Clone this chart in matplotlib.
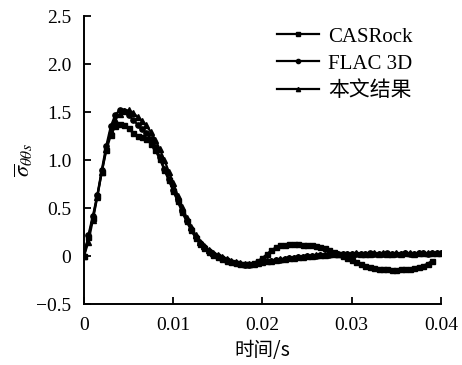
import numpy as np
import matplotlib
matplotlib.use('Agg')
import matplotlib.pyplot as plt

plt.rcParams['font.family'] = ['Liberation Serif', 'Noto Sans CJK SC']
plt.rcParams['mathtext.fontset'] = 'stix'

# time axis (s), step 0.0005
t = np.arange(81) * 0.0005

# CASRock (squares) -- ends at 0.039 s
cas = [0.00, 0.20, 0.40, 0.63, 0.88, 1.10, 1.26, 1.35, 1.38, 1.37,
       1.33, 1.28, 1.25, 1.24, 1.22, 1.17, 1.10, 1.01, 0.90, 0.79,
       0.68, 0.57, 0.46, 0.36, 0.27, 0.19, 0.13, 0.08, 0.04, 0.01,
       -0.01, -0.03, -0.05, -0.06, -0.07, -0.08, -0.08, -0.08, -0.07, -0.05,
       -0.02, 0.02, 0.06, 0.09, 0.11, 0.12, 0.13, 0.13, 0.13, 0.12,
       0.12, 0.11, 0.10, 0.09, 0.08, 0.06, 0.04, 0.02, 0.00, -0.02,
       -0.04, -0.06, -0.08, -0.10, -0.11, -0.12, -0.13, -0.14, -0.14, -0.15,
       -0.15, -0.14, -0.14, -0.13, -0.12, -0.11, -0.10, -0.08, -0.05]

# FLAC 3D (circles)
flac = [0.00, 0.22, 0.42, 0.64, 0.90, 1.15, 1.35, 1.47, 1.52, 1.51,
        1.47, 1.42, 1.37, 1.32, 1.28, 1.22, 1.14, 1.03, 0.91, 0.80,
        0.69, 0.58, 0.47, 0.37, 0.28, 0.20, 0.14, 0.09, 0.05, 0.02,
        0.00, -0.02, -0.04, -0.06, -0.07, -0.08, -0.09, -0.09, -0.08, -0.07,
        -0.06, -0.05, -0.05, -0.04, -0.04, -0.03, -0.02, -0.02, -0.01, -0.01,
        0.00, 0.00, 0.00, 0.01, 0.01, 0.01, 0.02, 0.02, 0.02, 0.02,
        0.02, 0.02, 0.02, 0.02, 0.03, 0.02, 0.02, 0.02, 0.03, 0.02,
        0.02, 0.02, 0.03, 0.02, 0.02, 0.03, 0.03, 0.02, 0.03, 0.03,
        0.03]

# this paper (triangles)
ours = [0.00, 0.15, 0.38, 0.62, 0.88, 1.12, 1.30, 1.42, 1.48, 1.51,
        1.52, 1.49, 1.45, 1.41, 1.36, 1.29, 1.21, 1.11, 1.00, 0.88,
        0.76, 0.63, 0.51, 0.40, 0.30, 0.22, 0.15, 0.10, 0.06, 0.03,
        0.01, -0.01, -0.03, -0.05, -0.06, -0.07, -0.08, -0.08, -0.08, -0.07,
        -0.06, -0.05, -0.05, -0.04, -0.03, -0.03, -0.02, -0.02, -0.01, -0.01,
        0.00, 0.00, 0.01, 0.01, 0.01, 0.02, 0.02, 0.02, 0.02, 0.02,
        0.02, 0.03, 0.02, 0.02, 0.02, 0.03, 0.02, 0.03, 0.02, 0.02,
        0.03, 0.02, 0.03, 0.03, 0.02, 0.03, 0.03, 0.03, 0.03, 0.03,
        0.03]

labels = ['CASRock', 'FLAC 3D', '本文结果']
xticks = [0, 0.01, 0.02, 0.03, 0.04]
xticklabels = ['0', '0.01', '0.02', '0.03', '0.04']
yticks = [-0.5, 0, 0.5, 1.0, 1.5, 2.0, 2.5]
yticklabels = ['\u22120.5', '0', '0.5', '1.0', '1.5', '2.0', '2.5']

fig = plt.figure(figsize=(4.62, 3.65), dpi=100)
ax = fig.add_axes([0.1818, 0.167, 0.7727, 0.789])

ax.plot(t[:len(cas)], cas, 'k-', marker='s', ms=3.6, lw=1.6, label=labels[0])
ax.plot(t, flac, 'k-', marker='o', ms=3.8, lw=1.6, label=labels[1])
ax.plot(t, ours, 'k-', marker='^', ms=3.8, lw=1.6, label=labels[2])

ax.set_xlim(0, 0.04)
ax.set_ylim(-0.5, 2.5)
ax.set_xticks(xticks)
ax.set_xticklabels(xticklabels)
ax.set_yticks(yticks)
ax.set_yticklabels(yticklabels)
ax.tick_params(direction='in', length=5, width=1.3, labelsize=14)
ax.tick_params(axis='x', pad=9)
ax.tick_params(axis='y', pad=9)
for s in ['top', 'right']:
    ax.spines[s].set_visible(False)
for s in ['left', 'bottom']:
    ax.spines[s].set_linewidth(1.4)

ax.set_xlabel('时间/s', fontsize=14, family=['Noto Sans CJK SC'], labelpad=5)
ax.set_ylabel(r'$\overline{\sigma}_{\theta\theta s}$', fontsize=16, labelpad=1)

ax.legend(loc='upper left', bbox_to_anchor=(277 / 462, 1 - 27 / 365),
          bbox_transform=fig.transFigure, frameon=False, numpoints=1,
          fontsize=15, handlelength=2.0, handletextpad=0.45, labelspacing=0.36,
          borderpad=0, borderaxespad=0, markerscale=0.8)

fig.savefig('out.png', dpi=100)
